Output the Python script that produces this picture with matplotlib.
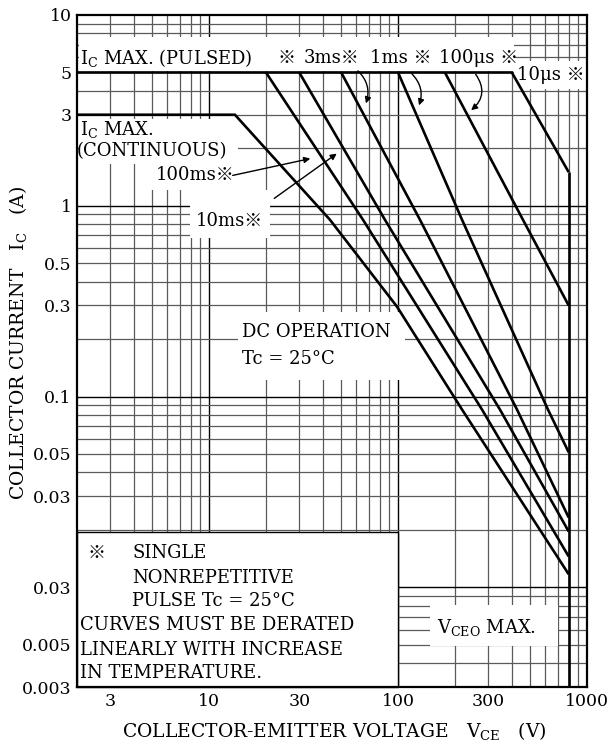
import matplotlib
matplotlib.use("Agg")
import matplotlib.pyplot as plt
import matplotlib.transforms as mtransforms
from matplotlib.patches import Rectangle
from matplotlib.ticker import NullLocator

plt.rcParams['font.family'] = ['DejaVu Serif', 'Noto Sans CJK JP']
plt.rcParams['mathtext.fontset'] = 'dejavuserif'

# ---------------- data ----------------
pulsed_max_v = [2, 400]
pulsed_max_i = [5, 5]

v_10us = [400, 800]
i_10us = [5, 1.5]

v_100us = [177, 458, 800]
i_100us = [5, 0.845, 0.3]

v_1ms = [100, 218, 621, 800]
i_1ms = [5, 0.845, 0.0855, 0.051]

v_3ms = [50, 130.6, 426, 800]
i_3ms = [5, 0.845, 0.0855, 0.0232]

v_10ms = [30, 85.2, 346, 800]
i_10ms = [5, 0.845, 0.0855, 0.0196]

v_100ms = [20, 65.2, 278, 800]
i_100ms = [5, 0.845, 0.0855, 0.0145]

v_dc = [2, 13.7, 43.6, 98.7, 218, 800]
i_dc = [3, 3, 0.845, 0.296, 0.0855, 0.0117]

v_vceo = [800, 800]
i_vceo = [1.5, 0.003]

x_ticks = [3, 10, 30, 100, 300, 1000]
x_ticklabels = ["3", "10", "30", "100", "300", "1000"]
y_ticks = [10, 5, 3, 1, 0.5, 0.3, 0.1, 0.05, 0.03, 0.01, 0.005, 0.003]
y_ticklabels = ["10", "5", "3", "1", "0.5", "0.3", "0.1", "0.05", "0.03", "0.03", "0.005", "0.003"]

# ---------------- figure ----------------
W, H = 610, 746
fig = plt.figure(figsize=(W / 100, H / 100), dpi=100)
ax = fig.add_axes([77 / W, 1 - 687 / H, 510 / W, 672 / H])
ax.set_xscale('log')
ax.set_yscale('log')
ax.set_xlim(2, 1000)
ax.set_ylim(0.003, 10)

# pixel transform (origin top-left of the figure)
pix = mtransforms.Affine2D().scale(1 / W, -1 / H).translate(0, 1) + fig.transFigure

# grid
for dec in [1, 10, 100, 1000]:
    for k in range(1, 10):
        v = k * dec
        if 2 < v < 1000:
            if k == 1:
                ax.axvline(v, color='black', lw=1.0, zorder=0.5)
            else:
                ax.axvline(v, color='#5a5a5a', lw=0.9, zorder=0.5)
for dec in [0.001, 0.01, 0.1, 1]:
    for k in range(1, 10):
        i = k * dec
        if 0.003 < i < 10:
            if k == 1:
                ax.axhline(i, color='black', lw=1.0, zorder=0.5)
            else:
                ax.axhline(i, color='#5a5a5a', lw=0.9, zorder=0.5)

# white masks behind the labels (grid is interrupted there)
masks = [
    (79, 37, 514, 71),
    (514, 61, 587, 89),
    (79, 119, 238, 164),
    (150, 160, 238, 190),
    (190, 190, 270, 238),
    (238, 312, 405, 380),
    (430, 605, 558, 646),
]
for x0, y0, x1, y1 in masks:
    ax.add_patch(Rectangle((x0, y0), x1 - x0, y1 - y0, transform=pix,
                           facecolor='white', edgecolor='none', zorder=1, clip_on=False))
ax.add_patch(Rectangle((77, 532), 321, 155, transform=pix, facecolor='white',
                       edgecolor='black', lw=1.0, zorder=1, clip_on=False))

# curves
lw = 1.9
for v, i in [(pulsed_max_v, pulsed_max_i), (v_10us, i_10us), (v_100us, i_100us),
             (v_1ms, i_1ms), (v_3ms, i_3ms), (v_10ms, i_10ms), (v_100ms, i_100ms),
             (v_dc, i_dc), (v_vceo, i_vceo)]:
    ax.plot(v, i, color='black', lw=lw, zorder=3, solid_joinstyle='miter',
            solid_capstyle='butt')

# ticks
ax.xaxis.set_minor_locator(NullLocator())
ax.yaxis.set_minor_locator(NullLocator())
ax.set_xticks(x_ticks)
ax.set_xticklabels(x_ticklabels)
ax.set_yticks(y_ticks)
ax.set_yticklabels(y_ticklabels)
ax.tick_params(length=0, labelsize=12.5, pad=4)
ax.tick_params(axis='x', pad=4)
for s in ax.spines.values():
    s.set_linewidth(1.6)
    s.set_zorder(5)

fs = 13.0
def T(x, y, s, **kw):
    kw.setdefault('fontsize', fs)
    kw.setdefault('ha', 'left')
    kw.setdefault('va', 'center')
    ax.text(x, y, s, transform=pix, zorder=4, clip_on=False, **kw)

T(80, 58, r"I$_\mathregular{C}$ MAX. (PULSED)")
T(278, 58, "※")
T(304, 58, "3ms※")
T(370, 58, "1ms ※")
T(439, 58, "100μs ※")
T(517, 75, "10μs ※")
T(80, 130, r"I$_\mathregular{C}$ MAX.")
T(77, 151, "(CONTINUOUS)")
T(156, 175, "100ms※")
T(196, 221, "10ms※")
T(242, 332, "DC OPERATION")
T(242, 359, "Tc = 25°C")
T(88, 553, "※")
T(132, 553, "SINGLE")
T(132, 578, "NONREPETITIVE")
T(132, 601, "PULSE Tc = 25°C")
T(80, 625, "CURVES MUST BE DERATED")
T(80, 650, "LINEARLY WITH INCREASE")
T(80, 673, "IN TEMPERATURE.")
T(437, 628, r"V$_\mathregular{CEO}$ MAX.")

# arrows
arrow_kw = dict(arrowstyle='-|>', color='black', lw=1.0, mutation_scale=9)
def A(xy_from, xy_to, rad=0.0):
    ax.annotate("", xy=xy_to, xytext=xy_from, xycoords=pix, textcoords=pix,
                arrowprops=dict(connectionstyle=f"arc3,rad={rad}", **arrow_kw),
                zorder=4, annotation_clip=False)

A((230, 176), (313, 158))
A((272, 200), (339, 152))
A((356, 69), (365, 106), rad=-0.35)
A((410, 72), (418, 108), rad=-0.35)
A((474, 72), (469, 112), rad=-0.5)

fig.text(18 / W, 1 - 343 / H, r"COLLECTOR CURRENT   I$_\mathregular{C}$   (A)",
         rotation=90, ha='center', va='center', fontsize=13.5)
fig.text(334 / W, 1 - 731 / H, r"COLLECTOR-EMITTER VOLTAGE   V$_\mathregular{CE}$   (V)",
         ha='center', va='center', fontsize=13.5)

fig.savefig("out.png", dpi=100)
